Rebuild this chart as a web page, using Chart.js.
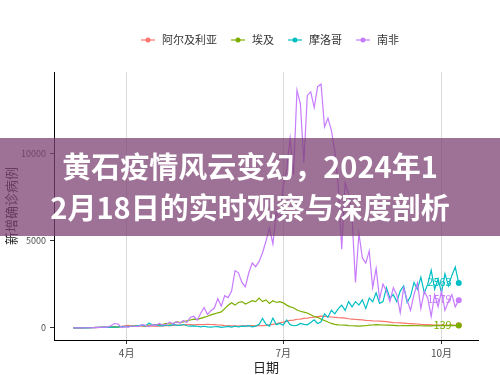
<!DOCTYPE html>
<html>
<head>
<meta charset="utf-8">
<script src="https://cdn.jsdelivr.net/npm/chart.js@4.4.1/dist/chart.umd.min.js"></script>
<style>
  body { margin: 0; background: #fff; }
  #wrap { position: relative; width: 500px; height: 375px; }
  #banner {
    position: absolute; left: 0; top: 138px; width: 500px; height: 98px;
    box-sizing: border-box; padding-top: 7px;
    background: rgba(125, 65, 115, 0.75);
    color: #fff; text-align: center;
    font: bold 29px/41px "Noto Sans CJK SC", "Noto Sans", sans-serif;
  }
</style>
</head>
<body>
<div id="wrap">
  <canvas id="c" width="500" height="375"></canvas>
  <div id="banner">黄石疫情风云变幻，2024年1<br>2月18日的实时观察与深度剖析</div>
</div>
<script>
// days since 1 March 2020, every second day
const days = [0,2,4,6,8,10,12,14,16,18,
  20,22,24,26,28,30,32,34,36,38,
  40,42,44,46,48,50,52,54,56,58,
  60,62,64,66,68,70,72,74,76,78,
  80,82,84,86,88,90,92,94,96,98,
  100,102,104,106,108,110,112,114,116,118,
  120,122,124,126,128,130,132,134,136,138,
  140,142,144,146,148,150,152,154,156,158,
  160,162,164,166,168,170,172,174,176,178,
  180,182,184,186,188,190,192,194,196,198,
  200,202,204,206,208,210,212,214,216,218,
  220,222,224];

const countries = ['阿尔及利亚', '埃及', '摩洛哥', '南非'];
const colors = ['#F8766D', '#7CAE00', '#00BFC4', '#C77CFF'];

const algeria = [0,0,2,3,5,8,10,15,20,30,
  40,50,70,60,80,120,140,100,110,120,
  95,90,100,90,110,95,110,120,130,140,
  150,160,170,180,190,170,180,185,190,195,
  190,180,160,150,130,120,115,110,105,110,
  115,110,120,115,120,130,135,170,200,240,
  290,330,380,430,440,490,500,540,560,590,
  610,640,670,650,640,620,600,580,570,550,
  520,500,480,470,450,430,420,400,390,380,
  370,350,330,300,290,280,270,250,240,230,
  220,200,190,180,170,160,155,150,150,145,
  150,140,150];

const egypt = [0,0,1,2,10,15,20,30,40,40,
  30,35,50,40,60,70,80,100,110,120,
  140,130,155,160,190,180,200,260,210,250,
  350,300,340,400,450,500,480,540,600,660,
  740,800,860,910,1100,1290,1440,1300,1450,1500,
  1360,1450,1550,1500,1700,1500,1600,1400,1550,1450,
  1500,1430,1300,1200,1150,1020,950,900,850,750,
  650,600,500,420,330,250,200,170,160,150,
  130,120,110,100,110,120,150,160,180,170,
  160,150,150,140,130,120,130,120,125,120,
  130,120,110,110,115,120,125,120,130,120,
  140,130,139];

const morocco = [0,0,0,1,2,5,10,20,25,30,
  20,40,45,50,60,80,70,90,100,130,
  150,100,280,180,150,120,110,160,120,180,
  150,140,190,120,100,110,90,60,90,50,
  40,60,70,30,50,80,40,90,60,100,
  80,120,60,100,200,539,200,100,560,180,
  250,150,450,180,120,140,250,200,170,300,
  460,250,350,800,600,1000,800,1100,1300,1000,
  1500,1200,1500,1300,1600,1100,1700,1500,2000,1400,
  1500,2300,1700,1900,1500,2100,2400,1450,1800,2600,
  2200,2900,2000,2500,3300,2200,2800,2000,3100,2400,
  3000,3480,2563];

const southAfrica = [0,0,1,0,3,4,13,24,30,52,
  38,128,243,218,17,71,46,104,83,87,
  178,145,68,178,142,251,165,190,318,217,
  354,266,424,304,595,663,437,818,1160,767,
  980,1130,1670,1240,1840,1730,2100,3270,3150,2600,
  2340,3150,3710,3500,3800,4300,4970,5700,4800,6580,
  6130,8120,9060,10850,8770,13600,12800,9450,13300,13500,
  12600,13800,13944,11500,12000,11300,10100,8100,4500,8300,
  7700,6300,2600,5400,4000,3700,4400,2300,3400,1650,
  2500,2100,1500,2300,1900,860,2300,1600,1000,1900,
  2570,1100,2100,1700,650,1900,1200,2100,1000,1500,
  1900,1200,1579];

const xTickDays = [31, 122, 214];
const xTickLabels = ['4月', '7月', '10月'];
const yTicks = [0, 5000, 10000];
const endLabelShown = [false, true, true, true];

const seriesValues = [algeria, egypt, morocco, southAfrica];

Chart.defaults.font.family = '"Noto Sans CJK SC", "Noto Sans", sans-serif';

const datasets = seriesValues.map((vals, i) => ({
  label: countries[i],
  data: days.map((d, k) => ({ x: d, y: vals[k] })),
  borderColor: colors[i],
  backgroundColor: colors[i],
  borderWidth: 1.2,
  tension: 0,
  order: 4 - i,
  pointRadius: c => c.dataIndex === vals.length - 1 ? 3 : 0,
  pointBorderWidth: 0,
  pointBackgroundColor: colors[i]
}));

// end labels and a ggplot-like legend
const extras = {
  id: 'extras',
  afterDatasetsDraw(chart) {
    const ctx = chart.ctx;
    ctx.save();
    ctx.font = '11px "Noto Sans CJK SC", sans-serif';
    ctx.textAlign = 'right';
    ctx.textBaseline = 'middle';
    chart.data.datasets.forEach((ds, i) => {
      if (!endLabelShown[i]) return;
      const meta = chart.getDatasetMeta(i);
      const pt = meta.data[meta.data.length - 1];
      ctx.fillStyle = colors[i];
      ctx.fillText(String(ds.data[ds.data.length - 1].y), pt.x - 7, pt.y - 1);
    });
    ctx.restore();
  },
  afterDraw(chart) {
    const ctx = chart.ctx;
    ctx.save();
    ctx.font = '11px "Noto Sans CJK SC", sans-serif';
    const sym = 14, gap = 7, itemGap = 14, cy = 40;
    const widths = countries.map(t => sym + gap + ctx.measureText(t).width);
    const total = widths.reduce((a, b) => a + b, 0) + itemGap * (countries.length - 1);
    let x = 270 - total / 2;
    countries.forEach((t, i) => {
      ctx.strokeStyle = colors[i];
      ctx.lineWidth = 1.2;
      ctx.beginPath();
      ctx.moveTo(x, cy);
      ctx.lineTo(x + sym, cy);
      ctx.stroke();
      ctx.fillStyle = colors[i];
      ctx.beginPath();
      ctx.arc(x + sym / 2, cy, 2.5, 0, Math.PI * 2);
      ctx.fill();
      ctx.fillStyle = '#333';
      ctx.textAlign = 'left';
      ctx.textBaseline = 'middle';
      ctx.fillText(t, x + sym + gap, cy);
      x += widths[i] + itemGap;
    });
    ctx.restore();
  }
};

new Chart(document.getElementById('c'), {
  type: 'line',
  data: { datasets: datasets },
  plugins: [extras],
  options: {
    responsive: false,
    animation: false,
    devicePixelRatio: 1,
    layout: { padding: { top: 72, right: 22, left: 0, bottom: 0 } },
    plugins: { legend: { display: false }, tooltip: { enabled: false } },
    scales: {
      x: {
        type: 'linear',
        min: -11.2,
        max: 235.2,
        afterFit: s => { s.height = 35; },
        afterBuildTicks: s => { s.ticks = xTickDays.map(v => ({ value: v })); },
        ticks: {
          autoSkip: false, maxRotation: 0, padding: 3,
          color: '#4d4d4d', font: { size: 10 },
          callback: v => xTickLabels[xTickDays.indexOf(v)]
        },
        grid: { color: '#d9d9d9', lineWidth: 1, tickLength: 4, tickColor: '#333' },
        border: { color: '#000', width: 1 },
        title: { display: true, text: '日期', color: '#222', font: { size: 13 }, padding: { top: 0, bottom: 0 } }
      },
      y: {
        min: -697,
        max: 14641,
        afterFit: s => { s.width = 54; },
        afterBuildTicks: s => { s.ticks = yTicks.map(v => ({ value: v })); },
        ticks: { padding: 4, color: '#4d4d4d', font: { size: 9 }, callback: v => String(v) },
        grid: { drawOnChartArea: false, tickLength: 4, tickColor: '#333' },
        border: { color: '#000', width: 1 },
        title: { display: true, text: '新增确诊病例', color: '#222', font: { size: 13 }, padding: { top: 3, bottom: 0 } }
      }
    }
  }
});
</script>
</body>
</html>
